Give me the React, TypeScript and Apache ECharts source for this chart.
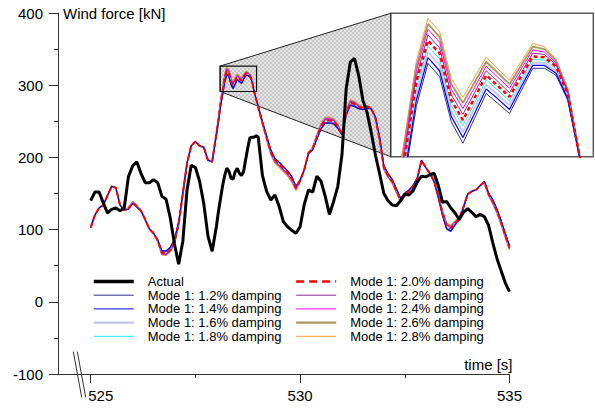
import React, { useEffect, useRef } from 'react';
import * as echarts from 'echarts';

// sample times [s]
const times = [
  525, 525.1, 525.2, 525.3, 525.4, 525.5, 525.6, 525.7, 525.8, 525.9,
  526, 526.1, 526.2, 526.3, 526.4, 526.5, 526.6, 526.7, 526.8, 526.9,
  527, 527.1, 527.2, 527.3, 527.4, 527.5, 527.6, 527.7, 527.8, 527.9,
  528, 528.05, 528.1, 528.15, 528.2, 528.25, 528.3, 528.35, 528.4, 528.45,
  528.5, 528.55, 528.6, 528.65, 528.7, 528.75, 528.8, 528.85, 528.9, 528.95,
  529, 529.1, 529.2, 529.3, 529.4, 529.5, 529.6, 529.7, 529.8, 529.9,
  530, 530.1, 530.2, 530.3, 530.4, 530.5, 530.6, 530.7, 530.8, 530.9,
  531, 531.1, 531.2, 531.3, 531.4, 531.5, 531.6, 531.7, 531.8, 531.9,
  532, 532.1, 532.2, 532.3, 532.4, 532.5, 532.6, 532.7, 532.8, 532.9,
  533, 533.1, 533.2, 533.3, 533.4, 533.5, 533.6, 533.7, 533.8, 533.9,
  534, 534.1, 534.2, 534.3, 534.4, 534.5, 534.6, 534.7, 534.8, 534.9,
  535,
];

// measured wind force [kN]
const actual = [
  140, 152, 152, 137, 123, 128, 130, 126, 130, 173,
  188, 194, 178, 165, 165, 169, 165, 146, 142, 116,
  80, 52, 84, 155, 189, 186, 167, 136, 91, 70,
  104, 125, 143, 161, 175, 185, 181, 171, 170, 180,
  185, 178, 175, 180, 197, 213, 227, 228, 228, 230,
  228, 175, 153, 141, 148, 132, 111, 104, 99, 95,
  104, 135, 155, 152, 174, 167, 146, 121, 139, 160,
  204, 295, 332, 337, 313, 279, 262, 234, 203, 177,
  150, 140, 134, 133, 140, 149, 148, 154, 166, 174,
  173, 176, 178, 161, 138, 139, 130, 123, 114, 124,
  129, 124, 118, 121, 118, 106, 82, 60, 43, 26,
  14,
];

// Mode 1: 2.0% damping [kN]
const mode20 = [
  103, 120, 130, 134, 147, 160, 158, 134, 127, 129,
  137, 132, 126, 114, 101, 95, 85, 68, 67, 72,
  83, 108, 150, 192, 216, 222, 216, 214, 196, 194,
  232, 252, 274, 291, 309.7, 319.8, 316.7, 305.2, 300.3, 305.7,
  311.3, 308.7, 306, 311, 315.9, 315.7, 313.4, 306.8, 291.7, 281,
  270, 248, 228, 208, 196, 191, 185, 179, 171, 158,
  168, 183, 206, 212, 228, 243, 251, 251, 250, 243,
  232, 261, 276, 274, 270, 268, 270, 268, 254, 225,
  186, 175, 167, 154, 141, 149, 153, 160, 171, 196,
  186, 178, 167, 146, 123, 105, 102, 109, 115, 131,
  149, 153, 155, 161, 166, 149, 139, 126, 110, 92,
  75,
];

// differences of the other damping cases from the 2.0% case [kN]
const off12 = [
  0, 0, 0, 0, 0, 0, 0, 0, 0, -1,
  -1, -1, 0, 0, 0, 0, 1, 3, 4, 4,
  4, 3, 0, 0, 0, 0, 0, 0, 0, 0,
  -2, -3, -4, -5, -6.1, -5.6, -5.7, -5.3, -5.7, -5,
  -4.5, -4.3, -4.1, -3.5, -2.9, -2.7, -2.1, -1.6, -0.3, 0,
  1, 2, 2, 3, 3, 3, 3, 3, 3, 2,
  1, 0, -1, -2, -3, -4, -4, -4, -4, -3,
  -1, -3, -4, -4, -3, -2, -2, -1, 2, 3,
  3, 3, 3, 3, 3, 2, 2, 2, 1, 0,
  0, -1, -1, -2, -4, -5, -5, -3, -2, -1,
  0, 0, 0, 0, 1, 2, 3, 3, 3, 3,
  3,
];
const off14 = [
  0, 0, 0, 0, 0, 0, 0, 0, 0, -0.8,
  -0.8, -0.8, 0, 0, 0, 0, 0.8, 2.3, 3, 3,
  3, 2.3, 0, 0, 0, 0, 0, 0, 0, 0,
  -1.5, -2.3, -3, -3.8, -4.6, -4.2, -4.3, -4, -4.3, -3.8,
  -3.4, -3.2, -3.1, -2.6, -2.2, -2, -1.6, -1.2, -0.2, 0,
  0.8, 1.5, 1.5, 2.3, 2.3, 2.3, 2.3, 2.3, 2.3, 1.5,
  0.8, 0, -0.8, -1.5, -2.3, -3, -3, -3, -3, -2.3,
  -0.8, -2.3, -3, -3, -2.3, -1.5, -1.5, -0.8, 1.5, 2.3,
  2.3, 2.3, 2.3, 2.3, 2.3, 1.5, 1.5, 1.5, 0.8, 0,
  0, -0.8, -0.8, -1.5, -3, -3.8, -3.8, -2.3, -1.5, -0.8,
  0, 0, 0, 0, 0.8, 1.5, 2.3, 2.3, 2.3, 2.3,
  2.3,
];
const off16 = [
  0, 0, 0, 0, 0, 0, 0, 0, 0, -0.5,
  -0.5, -0.5, 0, 0, 0, 0, 0.5, 1.5, 2, 2,
  2, 1.5, 0, 0, 0, 0, 0, 0, 0, 0,
  -1, -1.5, -2, -2.5, -3.1, -2.8, -2.9, -2.7, -2.9, -2.5,
  -2.3, -2.2, -2.1, -1.8, -1.5, -1.4, -1.1, -0.8, -0.2, 0,
  0.5, 1, 1, 1.5, 1.5, 1.5, 1.5, 1.5, 1.5, 1,
  0.5, 0, -0.5, -1, -1.5, -2, -2, -2, -2, -1.5,
  -0.5, -1.5, -2, -2, -1.5, -1, -1, -0.5, 1, 1.5,
  1.5, 1.5, 1.5, 1.5, 1.5, 1, 1, 1, 0.5, 0,
  0, -0.5, -0.5, -1, -2, -2.5, -2.5, -1.5, -1, -0.5,
  0, 0, 0, 0, 0.5, 1, 1.5, 1.5, 1.5, 1.5,
  1.5,
];
const off18 = [
  0, 0, 0, 0, 0, 0, 0, 0, 0, -0.3,
  -0.3, -0.3, 0, 0, 0, 0, 0.3, 0.8, 1, 1,
  1, 0.8, 0, 0, 0, 0, 0, 0, 0, 0,
  -0.5, -0.8, -1, -1.3, -1.5, -1.4, -1.4, -1.3, -1.4, -1.3,
  -1.1, -1.1, -1, -0.9, -0.7, -0.7, -0.5, -0.4, -0.1, 0,
  0.3, 0.5, 0.5, 0.8, 0.8, 0.8, 0.8, 0.8, 0.8, 0.5,
  0.3, 0, -0.3, -0.5, -0.8, -1, -1, -1, -1, -0.8,
  -0.3, -0.8, -1, -1, -0.8, -0.5, -0.5, -0.3, 0.5, 0.8,
  0.8, 0.8, 0.8, 0.8, 0.8, 0.5, 0.5, 0.5, 0.3, 0,
  0, -0.3, -0.3, -0.5, -1, -1.3, -1.3, -0.8, -0.5, -0.3,
  0, 0, 0, 0, 0.3, 0.5, 0.8, 0.8, 0.8, 0.8,
  0.8,
];
const off22 = [
  0, 0, 0, 0, 0, 0, 0, 0, 0, 0.3,
  0.5, 0.5, 0.3, 0, 0, 0, -0.3, -0.8, -0.8, -0.8,
  -0.8, -0.5, 0, 0, 0, 0, 0, 0, 0, 0,
  0.5, 0.8, 1, 1.3, 1.2, 1.4, 1.3, 1.3, 1.4, 1.3,
  1.1, 1.1, 1, 0.9, 0.8, 0.7, 0.5, 0.3, 0.1, 0,
  -0.3, -0.5, -0.8, -1, -1, -1.3, -1.3, -1.3, -1.3, -1,
  -0.5, 0, 0.3, 0.5, 0.8, 1, 1.3, 1.3, 1, 0.8,
  0.3, 0.8, 1, 1, 0.8, 0.5, 0.5, 0.3, -0.3, -0.8,
  -0.8, -0.8, -0.8, -0.8, -0.8, -0.8, -0.8, -0.5, -0.3, 0,
  0, 0.3, 0.3, 0.5, 0.8, 1, 1, 0.8, 0.5, 0.3,
  0, 0, 0, 0, -0.3, -0.5, -0.8, -0.8, -0.8, -0.8,
  -0.8,
];
const off24 = [
  0, 0, 0, 0, 0, 0, 0, 0, 0, 0.5,
  1, 1, 0.5, 0, 0, 0, -0.5, -1.5, -1.5, -1.5,
  -1.5, -1, 0, 0, 0, 0, 0, 0, 0, 0,
  1, 1.5, 2, 2.5, 2.5, 2.8, 2.7, 2.7, 2.8, 2.6,
  2.2, 2.1, 2.1, 1.8, 1.6, 1.3, 0.9, 0.7, 0.2, 0,
  -0.5, -1, -1.5, -2, -2, -2.5, -2.5, -2.5, -2.5, -2,
  -1, 0, 0.5, 1, 1.5, 2, 2.5, 2.5, 2, 1.5,
  0.5, 1.5, 2, 2, 1.5, 1, 1, 0.5, -0.5, -1.5,
  -1.5, -1.5, -1.5, -1.5, -1.5, -1.5, -1.5, -1, -0.5, 0,
  0, 0.5, 0.5, 1, 1.5, 2, 2, 1.5, 1, 0.5,
  0, 0, 0, 0, -0.5, -1, -1.5, -1.5, -1.5, -1.5,
  -1.5,
];
const off26 = [
  0, 0, 0, 0, 0, 0, 0, 0, 0, 0.8,
  1.5, 1.5, 0.8, 0, 0, 0, -0.8, -2.3, -2.3, -2.3,
  -2.3, -1.5, 0, 0, 0, 0, 0, 0, 0, 0,
  1.5, 2.3, 3, 3.8, 3.7, 4.1, 4, 4, 4.2, 3.8,
  3.3, 3.2, 3.1, 2.7, 2.4, 2, 1.4, 1, 0.3, 0,
  -0.8, -1.5, -2.3, -3, -3, -3.8, -3.8, -3.8, -3.8, -3,
  -1.5, 0, 0.8, 1.5, 2.3, 3, 3.8, 3.8, 3, 2.3,
  0.8, 2.3, 3, 3, 2.3, 1.5, 1.5, 0.8, -0.8, -2.3,
  -2.3, -2.3, -2.3, -2.3, -2.3, -2.3, -2.3, -1.5, -0.8, 0,
  0, 0.8, 0.8, 1.5, 2.3, 3, 3, 2.3, 1.5, 0.8,
  0, 0, 0, 0, -0.8, -1.5, -2.3, -2.3, -2.3, -2.3,
  -2.3,
];
const off28 = [
  0, 0, 0, 0, 0, 0, 0, 0, 0, 1,
  2, 2, 1, 0, 0, 0, -1, -3, -3, -3,
  -3, -2, 0, 0, 0, 0, 0, 0, 0, 0,
  2, 3, 4, 5, 4.9, 5.5, 5.3, 5.3, 5.6, 5.1,
  4.4, 4.2, 4.1, 3.6, 3.2, 2.6, 1.8, 1.3, 0.4, 0,
  -1, -2, -3, -4, -4, -5, -5, -5, -5, -4,
  -2, 0, 1, 2, 3, 4, 5, 5, 4, 3,
  1, 3, 4, 4, 3, 2, 2, 1, -1, -3,
  -3, -3, -3, -3, -3, -3, -3, -2, -1, 0,
  0, 1, 1, 2, 3, 4, 4, 3, 2, 1,
  0, 0, 0, 0, -1, -2, -3, -3, -3, -3,
  -3,
];

const xTicks = [525, 530, 535];
const xMinorTicks = [527.5, 532.5];
const zoomTime = [528.09, 528.96];
const zoomForce = [291.3, 326.5];

const FONT = 'Liberation Sans, Arial, sans-serif';
const ACTUAL = 'Actual';

type Mode = { name: string; off: number[] | null; color: string; width: number; dash?: number[] };
const modes: Record<string, Mode> = {
  d12: { name: 'Mode 1: 1.2% damping', off: off12, color: '#30308f', width: 1 },
  d14: { name: 'Mode 1: 1.4% damping', off: off14, color: '#0000ff', width: 1.2 },
  d16: { name: 'Mode 1: 1.6% damping', off: off16, color: '#c4c4f2', width: 1.8 },
  d18: { name: 'Mode 1: 1.8% damping', off: off18, color: '#22eeee', width: 1 },
  d20: { name: 'Mode 1: 2.0% damping', off: null, color: '#ff0000', width: 2, dash: [5, 3] },
  d22: { name: 'Mode 1: 2.2% damping', off: off22, color: '#8e2a92', width: 1 },
  d24: { name: 'Mode 1: 2.4% damping', off: off24, color: '#ff00ff', width: 1 },
  d26: { name: 'Mode 1: 2.6% damping', off: off26, color: '#aa9862', width: 1.8 },
  d28: { name: 'Mode 1: 2.8% damping', off: off28, color: '#ff9a3c', width: 1 },
};
const drawOrder = ['d28', 'd26', 'd24', 'd22', 'd18', 'd16', 'd12', 'd14', 'd20'];

export default function App() {
  const ref = useRef<HTMLDivElement>(null);
  useEffect(() => {
    const chart = echarts.init(ref.current!, null, { renderer: 'svg' });
    const modeData = (m: Mode) =>
      times.map((t, i) => [t, +(mode20[i] + (m.off ? m.off[i] : 0)).toFixed(2)]);

    const series: any[] = [];
    drawOrder.forEach((k) => {
      const m = modes[k];
      series.push({
        type: 'line', name: m.name, xAxisIndex: 0, yAxisIndex: 0,
        data: modeData(m), symbol: 'none', showSymbol: false, silent: true,
        color: m.color,
        lineStyle: { color: m.color, width: m.width, type: m.dash || 'solid' },
      });
    });
    series.push({
      type: 'line', name: ACTUAL, xAxisIndex: 0, yAxisIndex: 0,
      data: times.map((t, i) => [t, actual[i]]), symbol: 'none', showSymbol: false,
      silent: true, color: '#000', lineStyle: { color: '#000', width: 3 },
    });
    const insetStart = series.length;
    drawOrder.forEach((k) => {
      const m = modes[k];
      series.push({
        type: 'line', name: m.name, xAxisIndex: 2, yAxisIndex: 1, z: 8,
        data: modeData(m), symbol: 'none', showSymbol: false, silent: true,
        color: m.color, clip: true,
        lineStyle: { color: m.color, width: k === 'd20' ? 2.5 : m.width, type: k === 'd20' ? [4, 3] : 'solid' },
      });
    });

    const legendText = { fontSize: 13, fontFamily: FONT, color: '#000', padding: [0, 0, 0, 9] };
    const noSymbol = { color: 'rgba(0,0,0,0)', borderColor: 'rgba(0,0,0,0)', borderWidth: 0, opacity: 0 };
    const legendItem = (k: string) => {
      const m = modes[k];
      return {
        name: m.name,
        itemStyle: noSymbol,
        lineStyle: { width: k === 'd20' ? 2.3 : (m.width > 1.5 ? 2.3 : 1), type: k === 'd20' ? [8, 5] : 'solid' },
      };
    };

    const axisColor = '#333';
    chart.setOption({
      animation: false,
      grid: [
        { left: 58, top: 13, width: 451.5, height: 361, show: false },
        { left: 390.7, top: 13.3, width: 202.6, height: 143.4, show: true, backgroundColor: '#fff', borderColor: '#5a5a5a', borderWidth: 1.5 },
      ],
      legend: [
        {
          left: 92, top: 275, orient: 'vertical', padding: 0, itemWidth: 40, itemHeight: 14, itemGap: 0.7,
          selectedMode: false, textStyle: legendText, itemStyle: noSymbol,
          data: [{ name: ACTUAL, itemStyle: noSymbol, lineStyle: { width: 3.5 } }, legendItem('d12'), legendItem('d14'), legendItem('d16'), legendItem('d18')],
        },
        {
          left: 295, top: 275, orient: 'vertical', padding: 0, itemWidth: 40, itemHeight: 14, itemGap: 0.7,
          selectedMode: false, textStyle: legendText, itemStyle: noSymbol,
          data: [legendItem('d20'), legendItem('d22'), legendItem('d24'), legendItem('d26'), legendItem('d28')],
        },
      ],
      xAxis: [
        {
          type: 'value', gridIndex: 0, min: 524.219, max: 535, position: 'bottom',
          axisLine: { show: true, onZero: false, lineStyle: { color: axisColor, width: 1 } },
          axisTick: { show: true, customValues: xTicks, length: 9, lineStyle: { color: axisColor } },
          axisLabel: {
            show: true, customValues: xTicks, margin: 14, fontSize: 15, fontFamily: FONT, color: '#000',
            formatter: (v: number) => (v === 525 ? '{s|525}' : String(v)),
            rich: { s: { padding: [0, 0, 0, 20], fontSize: 15, fontFamily: FONT, color: '#000' } },
          },
          splitLine: { show: false },
          name: 'time [s]', nameLocation: 'end', nameGap: 3,
          nameTextStyle: { fontSize: 15, fontFamily: FONT, color: '#000', align: 'right', verticalAlign: 'bottom', padding: [0, 0, 2, 0] },
        },
        {
          type: 'value', gridIndex: 0, min: 524.219, max: 535, position: 'bottom',
          axisLine: { show: false, onZero: false },
          axisTick: { show: true, customValues: xMinorTicks, length: 4, lineStyle: { color: axisColor } },
          axisLabel: { show: false },
          splitLine: { show: false },
        },
        { type: 'value', gridIndex: 1, min: zoomTime[0], max: zoomTime[1], show: false },
      ],
      yAxis: [
        {
          type: 'value', gridIndex: 0, min: -100, max: 400, interval: 100,
          axisLine: { show: true, onZero: false, lineStyle: { color: axisColor, width: 1 } },
          axisTick: { show: true, length: 9, lineStyle: { color: axisColor } },
          minorTick: { show: true, splitNumber: 2, length: 4, lineStyle: { color: axisColor } },
          axisLabel: { margin: 15, fontSize: 15, fontFamily: FONT, color: '#000' },
          splitLine: { show: false },
          name: 'Wind force [kN]', nameLocation: 'end', nameGap: 0,
          nameTextStyle: { fontSize: 15, fontFamily: FONT, color: '#000', align: 'left', verticalAlign: 'middle', padding: [0, 0, 0, 5] },
        },
        { type: 'value', gridIndex: 1, min: zoomForce[0], max: zoomForce[1], show: false },
      ],
      series,
    });

    // zoom-window annotation, placed through the main and inset axes
    const a = chart.convertToPixel({ seriesIndex: 0 }, [zoomTime[0], zoomForce[1]]) as number[];
    const b = chart.convertToPixel({ seriesIndex: 0 }, [zoomTime[1], zoomForce[0]]) as number[];
    const c = chart.convertToPixel({ seriesIndex: insetStart }, [zoomTime[0], zoomForce[1]]) as number[];
    const d = chart.convertToPixel({ seriesIndex: insetStart }, [zoomTime[0], zoomForce[0]]) as number[];

    const cv = document.createElement('canvas');
    cv.width = 4; cv.height = 4;
    const ctx = cv.getContext('2d')!;
    ctx.fillStyle = '#e4e4e4'; ctx.fillRect(0, 0, 4, 4);
    ctx.fillStyle = '#c6c6c6'; ctx.fillRect(0, 0, 2, 2); ctx.fillRect(2, 2, 2, 2);
    const pattern = { image: cv.toDataURL(), repeat: 'repeat', imageWidth: 4, imageHeight: 4 };

    chart.setOption({
      graphic: [
        {
          type: 'polygon', z: 1, silent: true,
          shape: { points: [[a[0], a[1]], [c[0], c[1]], [d[0], d[1]], [a[0], b[1]]] },
          style: { fill: pattern as any, stroke: '#222', lineWidth: 1 },
        },
        {
          type: 'rect', z: 10, silent: true,
          shape: { x: a[0], y: a[1], width: b[0] - a[0], height: b[1] - a[1] },
          style: { fill: 'none', stroke: '#111', lineWidth: 1.2 },
        },
        { type: 'line', z: 10, silent: true, shape: { x1: 73.3, y1: 351.7, x2: 81.7, y2: 397.3 }, style: { stroke: '#333', lineWidth: 1 } },
        { type: 'line', z: 10, silent: true, shape: { x1: 77.3, y1: 351.7, x2: 85.7, y2: 397.3 }, style: { stroke: '#333', lineWidth: 1 } },
      ],
    });

    return () => chart.dispose();
  }, []);
  return <div ref={ref} style={{ position: 'absolute', left: 0, top: 0, width: 595, height: 409 }} />;
}
